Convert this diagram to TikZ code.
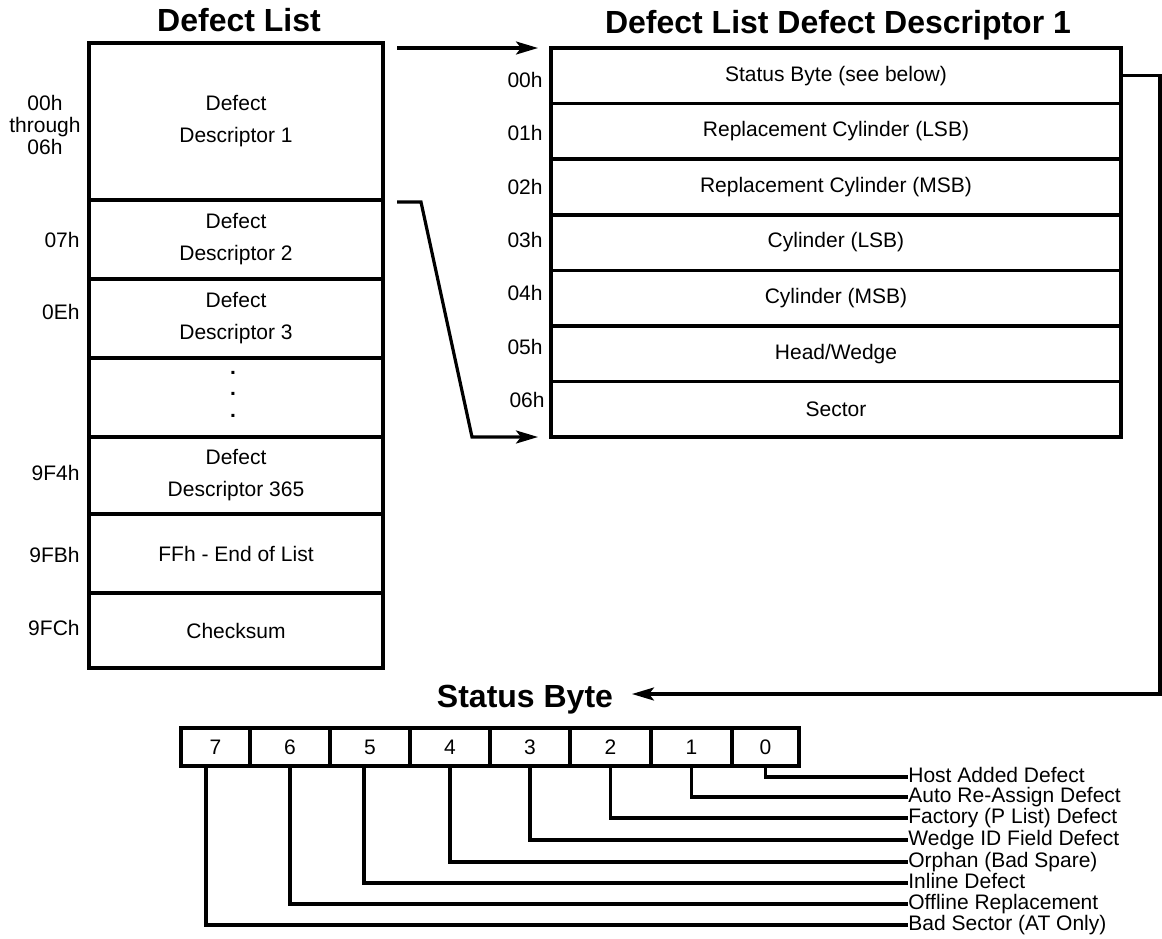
\documentclass[tikz,border=0pt]{standalone}
\usepackage{fontspec}
\setmainfont{Liberation Sans}
\usetikzlibrary{arrows.meta, positioning, calc}

\begin{document}
\begin{tikzpicture}[x=0.5pt, y=-0.5pt,
		cell/.style={draw, line width=1.8pt, inner sep=0pt, outer sep=0pt, align=center, font=\fontsize{10.5}{16}\selectfont},
		lcell/.style={cell, minimum width=147pt},
		rcell/.style={cell, minimum width=285pt, minimum height=27.8pt},
		bit/.style={cell, minimum height=19pt},
		lbl/.style={inner sep=0pt, align=center, font=\fontsize{10.5}{11}\selectfont},
		ttl/.style={inner sep=0pt, anchor=base, font=\fontsize{16}{19}\selectfont\bfseries},
		bitlbl/.style={inner sep=0pt, anchor=west, text height=7.5pt, text depth=2pt, font=\fontsize{10.5}{12}\selectfont},
		arr/.style={line width=1.6pt, -{Stealth[length=11pt, width=6.5pt, inset=2.5pt]}},
		wire/.style={line width=1.6pt}]
		\useasboundingbox (0,0) rectangle (1162,938);

		% Titles
		\node[ttl] (tlist) at (239,31) {Defect List};
		\node[ttl] (tdesc) at (838,33) {Defect List Defect Descriptor 1};
		\node[ttl] (sbt) at (525,707) {Status Byte};

		% Defect List
		\node[lcell, minimum height=78.5pt] (dd1) at (236,121.5) {Defect\\Descriptor 1};
		\node[lcell, minimum height=39.5pt] (dd2) at (236,239.5) {Defect\\Descriptor 2};
		\node[lcell, minimum height=39.5pt] (dd3) at (236,318.5) {Defect\\Descriptor 3};
		\node[lcell, minimum height=39.5pt] (ddots) at (236,397.5) {};
		\node[lcell, minimum height=38.5pt] (dd365) at (236,475.5) {Defect\\Descriptor 365};
		\node[lcell, minimum height=39.5pt] (dend) at (236,553.5) {FFh - End of List};
		\node[lcell, minimum height=37.5pt] (dsum) at (236,630.5) {Checksum};
		\node[lbl, font=\fontsize{10.5}{10.75}\selectfont\bfseries] (dts) at (233,394) {.\\.\\.};

		\node[lbl] (a00) at (45,125) {00h\\through\\06h};
		\node[lbl, anchor=east] (a07) at (80,240) {07h};
		\node[lbl, anchor=east] (a0E) at (80,312) {0Eh};
		\node[lbl, anchor=east] (a9F4) at (80,473) {9F4h};
		\node[lbl, anchor=east] (a9FB) at (80,555) {9FBh};
		\node[lbl, anchor=east] (a9FC) at (80,628) {9FCh};

		% Defect Descriptor 1
		\node[rcell] (d0) at (836,75.8) {Status Byte (see below)};
		\node[rcell] (d1) at (836,131.4) {Replacement Cylinder (LSB)};
		\node[rcell] (d2) at (836,186.9) {Replacement Cylinder (MSB)};
		\node[rcell] (d3) at (836,242.5) {Cylinder (LSB)};
		\node[rcell] (d4) at (836,298.1) {Cylinder (MSB)};
		\node[rcell] (d5) at (836,353.6) {Head/Wedge};
		\node[rcell] (d6) at (836,409.2) {Sector};

		\node[lbl, anchor=east] (o0) at (543,80) {00h};
		\node[lbl, anchor=east] (o1) at (543,133) {01h};
		\node[lbl, anchor=east] (o2) at (543,187) {02h};
		\node[lbl, anchor=east] (o3) at (543,240) {03h};
		\node[lbl, anchor=east] (o4) at (543,293) {04h};
		\node[lbl, anchor=east] (o5) at (543,347) {05h};
		\node[lbl, anchor=east] (o6) at (545,400) {06h};

		% Arrows
		\coordinate (p1) at (397,48);
		\coordinate (p2) at (397,202);
		\coordinate (p3) at (421,202);
		\coordinate (p4) at (472,437);
		\coordinate (sbc) at (1160,694);
		\coordinate (sbe) at (632,694);
		\draw[arr] (p1) -- ([xshift=-6.5pt]d0.north west);
		\draw[arr] (p2) -- (p3) -- (p4) -- ([xshift=-6.5pt]d6.south west);
		\draw[arr] (d0.east) -| (sbc) -- (sbe);

		% Status Byte
		\node[bit, minimum width=34.5pt] (b7) at (215.5,747) {7};
		\node[bit, minimum width=40pt] (b6) at (290,747) {6};
		\node[bit, minimum width=40pt] (b5) at (370,747) {5};
		\node[bit, minimum width=40pt] (b4) at (450,747) {4};
		\node[bit, minimum width=40pt] (b3) at (530,747) {3};
		\node[bit, minimum width=40.5pt] (b2) at (610.5,747) {2};
		\node[bit, minimum width=40.5pt] (b1) at (691.5,747) {1};
		\node[bit, minimum width=33.5pt] (b0) at (765.5,747) {0};

		\node[bitlbl] (l0) at (908,777) {Host Added Defect};
		\node[bitlbl] (l1) at (908,797) {Auto Re-Assign Defect};
		\node[bitlbl] (l2) at (908,818) {Factory (P List) Defect};
		\node[bitlbl] (l3) at (908,840) {Wedge ID Field Defect};
		\node[bitlbl] (l4) at (908,862) {Orphan (Bad Spare)};
		\node[bitlbl] (l5) at (908,883) {Inline Defect};
		\node[bitlbl] (l6) at (908,904) {Offline Replacement};
		\node[bitlbl] (l7) at (908,925) {Bad Sector (AT Only)};

		\draw[wire] (b0.south) |- (l0.west);
		\draw[wire] (b1.south) |- (l1.west);
		\draw[wire] (b2.south) |- (l2.west);
		\draw[wire] (b3.south) |- (l3.west);
		\draw[wire] (b4.south) |- (l4.west);
		\draw[wire] ([xshift=-3pt]b5.south) |- (l5.west);
		\draw[wire] (b6.south) |- (l6.west);
		\draw[wire] ([xshift=-4.75pt]b7.south) |- (l7.west);
	\end{tikzpicture}
\end{document}
